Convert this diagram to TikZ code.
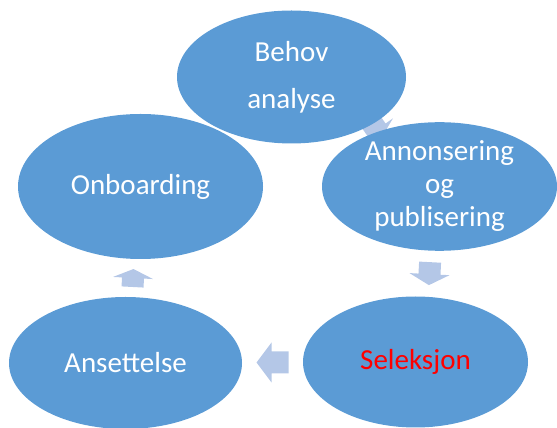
\documentclass[tikz,border=0pt]{standalone}
\usepackage{fontspec}
\setmainfont{Carlito}
\usepackage{xcolor}
\usepackage{tikz}
\usetikzlibrary{shapes.geometric, calc}
\definecolor{ellipseblue}{HTML}{5B9BD5}
\definecolor{arrowblue}{HTML}{B4C7E7}
\def\headwidth{20}
\def\shaftwidth{11}
\tikzset{
  fase/.style={ellipse, fill=ellipseblue, text=white, inner sep=0pt, align=center, font=\fontsize{29}{33}\selectfont},
  pil/.style={fill=arrowblue}
}
% #1 centre, #2 angle, #3 length, #4 head length
\newcommand{\cyclearrow}[4]{
\fill[pil, shift={#1}, rotate=#2] (0.5 * #3, 0) -- (0.5 * #3 - #4, \headwidth) -- (0.5 * #3 - #4, \shaftwidth) -- (-0.5 * #3, \shaftwidth) -- (-0.5 * #3, -\shaftwidth) -- (0.5 * #3 - #4, -\shaftwidth) -- (0.5 * #3 - #4, -\headwidth) -- cycle;
}

\begin{document}
\begin{tikzpicture}[x=1pt, y=1pt]
\useasboundingbox (0,0) rectangle (557,428);

% Hidden arrow, only a sliver shows between the ellipses
\coordinate (p0) at (376, 299);
\cyclearrow{(p0)}{-55}{20}{9}

% Phases
\node[fase, minimum width=229, minimum height=133] (behov) at (291.5, 351) {Behov\\[14pt]analyse};
\node[fase, minimum width=235, minimum height=121] (annonse) at (439.5, 241.5) {Annonsering\\og\\publisering};
\node[fase, minimum width=225, minimum height=131, text=red] (seleksjon) at (415.5, 66) {Seleksjon};
\node[fase, minimum width=233, minimum height=132] (ansettelse) at (125.5, 65) {Ansettelse};
\node[fase, minimum width=245, minimum height=145] (onboarding) at (140.5, 241.5) {Onboarding};

% Arrows
\coordinate (p1) at ($(annonse.south)!0.5!(seleksjon.north) + (2, 0)$);
\cyclearrow{(p1)}{-93}{23}{11}

\coordinate (p2) at ($(seleksjon.west)!0.5!(ansettelse.east)$);
\cyclearrow{(p2)}{180}{32}{15}

\coordinate (p3) at ($(ansettelse.north)!0.5!(onboarding.south)$);
\cyclearrow{(p3)}{87}{18}{9}

\end{tikzpicture}
\end{document}
